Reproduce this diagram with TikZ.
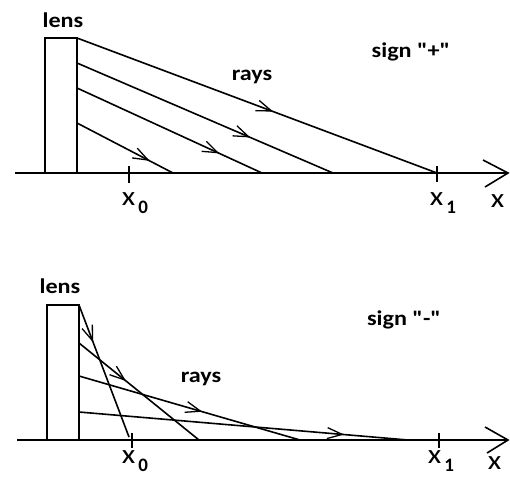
\documentclass[tikz,border=0pt]{standalone}
\usepackage{fontspec}
\setmainfont{Carlito}[Ligatures=TeXOff]
\usetikzlibrary{decorations.markings}
\newcommand\xsub[1]{\scalebox{1.15}[1]{\fontsize{27}{27}\selectfont x}\hspace{3pt}\raisebox{-8pt}{\fontsize{19}{19}\selectfont\bfseries #1}}
\begin{document}
\begin{tikzpicture}[x=1pt,y=-1pt,line width=1.6pt,
  lbl/.style={font=\fontsize{21}{21}\selectfont\bfseries,inner sep=0,anchor=base,xscale=1.15},
  xl/.style={inner sep=0,anchor=base west},
  ray/.style={postaction=decorate,decoration={markings,mark=at position #1 with {\draw[line width=1.3pt] (-15pt,5.5pt) -- (0,0) -- (-15pt,-5.5pt);}}}
]
\fill[white] (0,0) rectangle (510,479);

% ---------- top panel ----------
\coordinate (ta0) at (15,173);
\coordinate (ta1) at (508,173);
\draw (ta0) -- (ta1);
\draw (483,160) -- (ta1) -- (485,187);
\draw (45,173) -- (45,38) -- (77,38) -- (77,173);
\draw (129,166) -- (129,183);
\draw (437,166) -- (437,182);
\coordinate (ts1) at (77,38);  \coordinate (te1) at (437,173);
\coordinate (ts2) at (77,63);  \coordinate (te2) at (333,173);
\coordinate (ts3) at (77,88);  \coordinate (te3) at (262,173);
\coordinate (ts4) at (77,123); \coordinate (te4) at (173,173);
\draw[ray=0.54] (ts1) -- (te1);
\draw[ray=0.67] (ts2) -- (te2);
\draw[ray=0.76] (ts3) -- (te3);
\draw[ray=0.74] (ts4) -- (te4);
\node[lbl] (tlens) at (63,27) {lens};
\node[lbl] (trays) at (252,80) {rays};
\node[lbl] (tsign) at (411,57) {sign "+"};
\node[xl] (tx0) at (121,205) {\xsub{0}};
\node[xl] (tx1) at (429,205) {\xsub{1}};
\node[xl] (tx) at (490,207) {\scalebox{1.15}[1]{\fontsize{27}{27}\selectfont x}};

% ---------- bottom panel ----------
\coordinate (ba0) at (17,440);
\coordinate (ba1) at (508,440);
\draw (ba0) -- (ba1);
\draw (485,427) -- (ba1) -- (487,453);
\draw (47,440) -- (47,305) -- (79,305) -- (79,440);
\draw (132,433) -- (132,448);
\draw (439,433) -- (439,448);
\coordinate (bs1) at (79,305); \coordinate (be1) at (129,437);
\coordinate (bs2) at (79,343); \coordinate (be2) at (199,440);
\coordinate (bs3) at (79,376); \coordinate (be3) at (300,440);
\coordinate (bs4) at (79,412); \coordinate (be4) at (408,440);
\draw[ray=0.27] (bs1) -- (be1);
\draw[ray=0.38] (bs2) -- (be2);
\draw[ray=0.55] (bs3) -- (be3);
\draw[ray=0.80] (bs4) -- (be4);
\node[lbl] (blens) at (60,293) {lens};
\node[lbl] (brays) at (201,382) {rays};
\node[lbl] (bsign) at (404,325) {sign "-"};
\node[xl] (bx0) at (121,463) {\xsub{0}};
\node[xl] (bx1) at (427,463) {\xsub{1}};
\node[xl] (bx) at (487,469) {\scalebox{1.15}[1]{\fontsize{27}{27}\selectfont x}};
\end{tikzpicture}
\end{document}
